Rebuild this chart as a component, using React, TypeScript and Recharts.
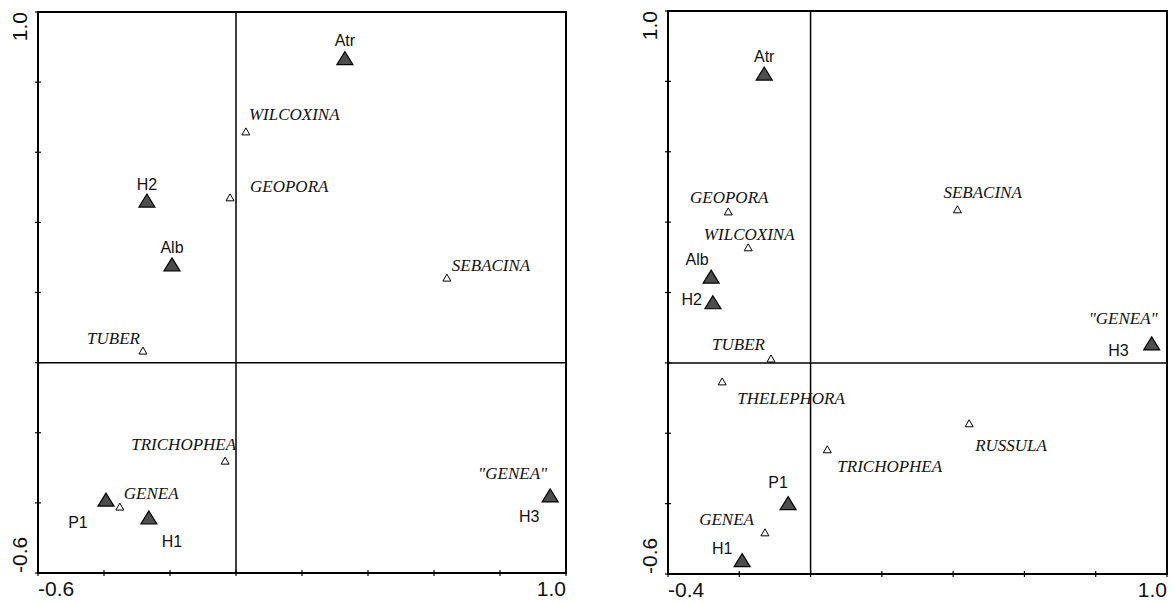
import React from 'react';
import { ScatterChart, Scatter, XAxis, YAxis, ReferenceArea, ReferenceLine } from 'recharts';

// Axis ticks
const leftTicksX = [-0.6, -0.4, -0.2, 0, 0.2, 0.4, 0.6, 0.8, 1.0];
const rightTicksX = [-0.4, -0.2, 0, 0.2, 0.4, 0.6, 0.8, 1.0];
const ticksY = [-0.6, -0.4, -0.2, 0, 0.2, 0.4, 0.6, 0.8, 1.0];

// Left ordination: sites (filled) and genera (open)
const leftSites = [
  { name: 'Atr', x: 0.33, y: 0.864 },
  { name: 'H2', x: -0.27, y: 0.458 },
  { name: 'Alb', x: -0.194, y: 0.276 },
  { name: 'P1', x: -0.394, y: -0.395 },
  { name: 'H1', x: -0.264, y: -0.446 },
  { name: 'H3', x: 0.952, y: -0.383 },
];
const leftGenera = [
  { name: 'WILCOXINA', x: 0.03, y: 0.658 },
  { name: 'GEOPORA', x: -0.018, y: 0.47 },
  { name: 'SEBACINA', x: 0.639, y: 0.241 },
  { name: 'TUBER', x: -0.282, y: 0.033 },
  { name: 'TRICHOPHEA', x: -0.033, y: -0.281 },
  { name: 'GENEA', x: -0.352, y: -0.412 },
  { name: '"GENEA"', x: 0.952, y: -0.383 },
];

// Right ordination
const rightSites = [
  { name: 'Atr', x: -0.13, y: 0.818 },
  { name: 'Alb', x: -0.279, y: 0.241 },
  { name: 'H2', x: -0.274, y: 0.168 },
  { name: 'H3', x: 0.957, y: 0.051 },
  { name: 'P1', x: -0.063, y: -0.403 },
  { name: 'H1', x: -0.192, y: -0.565 },
];
const rightGenera = [
  { name: 'GEOPORA', x: -0.231, y: 0.429 },
  { name: 'WILCOXINA', x: -0.175, y: 0.327 },
  { name: 'SEBACINA', x: 0.412, y: 0.435 },
  { name: 'TUBER', x: -0.111, y: 0.011 },
  { name: 'THELEPHORA', x: -0.248, y: -0.054 },
  { name: 'RUSSULA', x: 0.445, y: -0.173 },
  { name: 'TRICHOPHEA', x: 0.047, y: -0.247 },
  { name: 'GENEA', x: -0.128, y: -0.483 },
  { name: '"GENEA"', x: 0.957, y: 0.051 },
];

// label placement: [dx, dy (text centre), anchor]
type Place = Record<string, [number, number, 'start' | 'middle' | 'end']>;
const leftPlace: Place = {
  Atr: [0, -20, 'middle'], H2: [0, -18, 'middle'], Alb: [0, -19, 'middle'],
  P1: [-28, 21, 'middle'], H1: [23, 22, 'middle'], H3: [-21, 19, 'middle'],
  WILCOXINA: [3, -18, 'start'], GEOPORA: [20, -12, 'start'], SEBACINA: [5, -13, 'start'],
  TUBER: [-3, -13, 'end'], TRICHOPHEA: [11, -17, 'end'], GENEA: [4, -14, 'start'],
  '"GENEA"': [-3, -24, 'end'],
};
const rightPlace: Place = {
  Atr: [0, -19, 'middle'], Alb: [-14, -19, 'middle'], H2: [-11, -5, 'end'],
  H3: [-23, 5, 'end'], P1: [-10, -23, 'middle'], H1: [-20, -14, 'middle'],
  GEOPORA: [1, -15, 'middle'], WILCOXINA: [1, -14, 'middle'], SEBACINA: [-14, -18, 'start'],
  TUBER: [-6, -15, 'end'], THELEPHORA: [15, 16, 'start'], RUSSULA: [6, 21, 'start'],
  TRICHOPHEA: [10, 16, 'start'], GENEA: [-11, -14, 'end'], '"GENEA"': [6, -27, 'end'],
};

const SANS = '"Liberation Sans", Arial, sans-serif';
const SERIF = '"Liberation Serif", "Times New Roman", serif';

function SiteMark({ cx, cy, payload, place }: any) {
  const [dx, dy, anchor] = place[payload.name] || [0, -18, 'middle'];
  return (
    <g>
      <path d={`M${cx},${cy - 8} L${cx + 8},${cy + 5} L${cx - 8},${cy + 5} Z`} fill="#4d4d4d" stroke="#000" strokeWidth={1.2} />
      <text x={cx + dx} y={cy + dy + 6} textAnchor={anchor} fontFamily={SANS} fontSize={16} fill="#111">{payload.name}</text>
    </g>
  );
}

function GenusMark({ cx, cy, payload, place }: any) {
  const [dx, dy, anchor] = place[payload.name] || [4, -14, 'start'];
  return (
    <g>
      <path d={`M${cx},${cy - 4} L${cx + 4},${cy + 3} L${cx - 4},${cy + 3} Z`} fill="#fff" stroke="#000" strokeWidth={1} />
      <text x={cx + dx} y={cy + dy + 6} textAnchor={anchor} fontFamily={SERIF} fontStyle="italic" fontSize={17} fill="#111">{payload.name}</text>
    </g>
  );
}

function XTick({ x, y, payload, lo, hi }: any) {
  const v = payload.value;
  const isEnd = Math.abs(v - lo) < 1e-9 || Math.abs(v - hi) < 1e-9;
  return (
    <g>
      <line x1={x} x2={x} y1={y - 3} y2={y + 3} stroke="#000" strokeWidth={1.2} />
      {isEnd && (
        <text x={x} y={y + 23} textAnchor={Math.abs(v - lo) < 1e-9 ? 'start' : 'end'} fontFamily={SANS} fontSize={21} fill="#111">
          {v.toFixed(1)}
        </text>
      )}
    </g>
  );
}

function YTick({ x, y, payload, lo, hi }: any) {
  const v = payload.value;
  const isEnd = Math.abs(v - lo) < 1e-9 || Math.abs(v - hi) < 1e-9;
  const tx = x - 11;
  return (
    <g>
      <line x1={x - 3} x2={x + 3} y1={y} y2={y} stroke="#000" strokeWidth={1.2} />
      {isEnd && (
        <text x={tx} y={y} transform={`rotate(-90, ${tx}, ${y})`} textAnchor={Math.abs(v - lo) < 1e-9 ? 'start' : 'end'} fontFamily={SANS} fontSize={21} fill="#111">
          {v.toFixed(1)}
        </text>
      )}
    </g>
  );
}

function Panel({ width, margin, xTicks, sites, genera, place }: any) {
  const xlo = xTicks[0];
  const xhi = xTicks[xTicks.length - 1];
  return (
    <ScatterChart width={width} height={603} margin={margin}>
      <XAxis type="number" dataKey="x" domain={[xlo, xhi]} ticks={xTicks} interval={0} height={margin.xAxisH}
        axisLine={false} tickLine={false} tickSize={0} tickMargin={0} allowDataOverflow
        tick={(p: any) => <XTick {...p} lo={xlo} hi={xhi} />} />
      <YAxis type="number" dataKey="y" domain={[-0.6, 1.0]} ticks={ticksY} interval={0} width={38}
        axisLine={false} tickLine={false} tickSize={0} tickMargin={0} allowDataOverflow
        tick={(p: any) => <YTick {...p} lo={-0.6} hi={1.0} />} />
      <ReferenceArea x1={xlo} x2={xhi} y1={-0.6} y2={1.0} fill="none" fillOpacity={0} stroke="#000" strokeWidth={2} />
      <ReferenceLine x={0} stroke="#000" strokeWidth={1.5} />
      <ReferenceLine y={0} stroke="#000" strokeWidth={1.5} />
      <Scatter data={genera} isAnimationActive={false} shape={(p: any) => <GenusMark {...p} place={place} />} />
      <Scatter data={sites} isAnimationActive={false} shape={(p: any) => <SiteMark {...p} place={place} />} />
    </ScatterChart>
  );
}

export default function App() {
  return (
    <div style={{ position: 'absolute', left: 0, top: 0, width: 1173, height: 603, background: '#fff' }}>
      <div style={{ position: 'absolute', left: 0, top: 0 }}>
        <Panel width={600} margin={{ top: 12, right: 34, bottom: 0, left: 0, xAxisH: 30 }}
          xTicks={leftTicksX} sites={leftSites} genera={leftGenera} place={leftPlace} />
      </div>
      <div style={{ position: 'absolute', left: 630, top: 0 }}>
        <Panel width={543} margin={{ top: 11, right: 6, bottom: 0, left: 0, xAxisH: 29 }}
          xTicks={rightTicksX} sites={rightSites} genera={rightGenera} place={rightPlace} />
      </div>
    </div>
  );
}
